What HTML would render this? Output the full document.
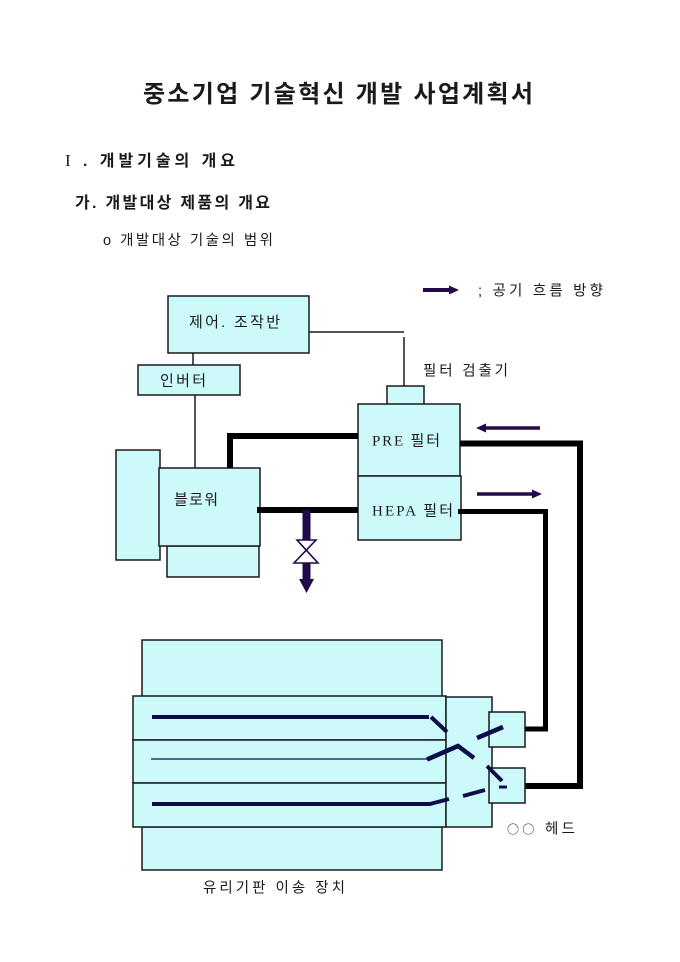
<!DOCTYPE html>
<html>
<head>
<meta charset="utf-8">
<style>
html,body{margin:0;padding:0;background:#fff;}
svg{display:block;}
text{font-family:"Liberation Sans","Noto Sans CJK KR",sans-serif;fill:#1a1a1a;}
.kr{font-family:"Noto Sans CJK KR","Liberation Sans",sans-serif;}
.box{fill:#ccfafa;stroke:#1a1a1a;stroke-width:1.5;}
.thin{stroke:#1a1a1a;stroke-width:1.5;fill:none;}
.pipe{stroke:#000;fill:none;stroke-linejoin:miter;stroke-linecap:butt;}
.navy{stroke:#0c0c4a;fill:none;stroke-linecap:butt;}
</style>
</head>
<body>
<svg width="680" height="962" viewBox="0 0 680 962" xmlns="http://www.w3.org/2000/svg">
<rect width="680" height="962" fill="#fff"/>

<!-- Headings -->
<text x="143" y="102" font-size="24" font-weight="bold" textLength="390" lengthAdjust="spacing">중소기업 기술혁신 개발 사업계획서</text>
<text x="65" y="166" font-size="16" font-weight="bold" textLength="170" lengthAdjust="spacing"><tspan font-family="Liberation Serif" font-weight="normal" font-size="17">I</tspan> . 개발기술의 개요</text>
<text x="75" y="208" font-size="16" font-weight="bold" textLength="195" lengthAdjust="spacing">가. 개발대상 제품의 개요</text>
<text x="103" y="245" font-size="14.5" textLength="170" lengthAdjust="spacing">ο 개발대상 기술의 범위</text>

<!-- Legend -->
<line x1="423" y1="290" x2="450" y2="290" stroke="#220a4a" stroke-width="4"/>
<polygon points="449,285.5 459,290 449,294.5" fill="#220a4a"/>
<text x="478" y="295.5" font-size="14.5" textLength="125" lengthAdjust="spacing">; 공기 흐름 방향</text>

<!-- Control panel -->
<rect class="box" x="168" y="296" width="141" height="57"/>
<text x="189" y="327" font-size="15" textLength="91" lengthAdjust="spacing">제어. 조작반</text>
<line class="thin" x1="309" y1="332" x2="404" y2="332"/>
<line class="thin" x1="404" y1="337" x2="404" y2="386"/>

<!-- Inverter -->
<line class="thin" x1="193" y1="353" x2="193" y2="365"/>
<rect class="box" x="138" y="365" width="102" height="30"/>
<text x="160" y="385.5" font-size="15" textLength="46" lengthAdjust="spacing">인버터</text>
<line class="thin" x1="195" y1="395" x2="195" y2="468"/>

<!-- Filter detector -->
<text x="423" y="375.5" font-size="14.5" textLength="85" lengthAdjust="spacing">필터 검출기</text>
<rect class="box" x="387" y="386" width="37" height="20"/>

<!-- Filters -->
<rect class="box" x="358" y="404" width="102" height="72"/>
<rect class="box" x="358" y="476" width="103" height="64"/>
<text x="372" y="445.5" font-size="15" textLength="68" lengthAdjust="spacing"><tspan font-family="Liberation Serif">PRE </tspan>필터</text>
<text x="372" y="515.5" font-size="15" textLength="81" lengthAdjust="spacing"><tspan font-family="Liberation Serif">HEPA </tspan>필터</text>

<!-- Blower group -->
<rect class="box" x="116" y="450" width="44" height="110"/>
<rect class="box" x="167" y="546" width="92" height="31"/>
<rect class="box" x="159" y="468" width="101" height="78"/>
<text x="174" y="504.5" font-size="15" textLength="44" lengthAdjust="spacing">블로워</text>

<!-- Pipes -->
<path class="pipe" d="M230 468 V436 H358" stroke-width="6"/>
<path class="pipe" d="M257 510 H358" stroke-width="6"/>
<path class="pipe" d="M460 443.5 H580 V786 H525" stroke-width="6"/>
<path class="pipe" d="M458 511.5 H545.5 V729 H525" stroke-width="5"/>

<!-- Flow arrows -->
<line x1="540" y1="428" x2="485" y2="428" stroke="#220a4a" stroke-width="3.5"/>
<polygon points="486,423.5 476,428 486,432.5" fill="#220a4a"/>
<line x1="477" y1="494" x2="533" y2="494" stroke="#220a4a" stroke-width="3.5"/>
<polygon points="532,489.5 542,494 532,498.5" fill="#220a4a"/>

<!-- Valve -->
<line x1="306.5" y1="510" x2="306.5" y2="540" stroke="#220a4a" stroke-width="8"/>
<path d="M297 540 L316 540 L294 563 L318 563 Z" fill="#fff" stroke="#220a4a" stroke-width="1.6" stroke-linejoin="miter"/>
<line x1="306.5" y1="563" x2="306.5" y2="580" stroke="#220a4a" stroke-width="8"/>
<polygon points="299,579 314,579 306.5,593" fill="#220a4a"/>

<!-- Glass transport unit -->
<rect class="box" x="142" y="640" width="300" height="57"/>
<rect class="box" x="142" y="827" width="300" height="43"/>
<rect class="box" x="133" y="696" width="313" height="44"/>
<rect class="box" x="133" y="740" width="313" height="43"/>
<rect class="box" x="133" y="783" width="313" height="44"/>
<rect class="box" x="446" y="697" width="46" height="130"/>
<rect class="box" x="489" y="712" width="36" height="35"/>
<rect class="box" x="489" y="768" width="36" height="35"/>

<!-- Glass lines -->
<line class="navy" x1="152" y1="717" x2="429" y2="717" stroke-width="4"/>
<line class="navy" x1="431" y1="717" x2="447" y2="732" stroke-width="4"/>
<line x1="151" y1="759" x2="428" y2="759" stroke="#0c0c4a" stroke-width="1.2"/>
<path class="navy" d="M427 759.5 L458 746 L474 758" stroke-width="4.5" stroke-linejoin="miter"/>
<line class="navy" x1="477" y1="738" x2="503" y2="727" stroke-width="4.5"/>
<line class="navy" x1="487" y1="766" x2="502" y2="781" stroke-width="4"/>
<line class="navy" x1="499" y1="787" x2="507" y2="787" stroke-width="3"/>
<path class="navy" d="M152 804 L430 804 L449 799" stroke-width="4" stroke-linejoin="round"/>
<line class="navy" x1="463" y1="796" x2="485" y2="790" stroke-width="4"/>

<text x="507" y="833.5" font-size="14.5" textLength="68" lengthAdjust="spacing"><tspan class="kr" font-size="12">○○</tspan> 헤드</text>
<text x="203" y="892.5" font-size="14.5" textLength="142" lengthAdjust="spacing">유리기판 이송 장치</text>
</svg>
</body>
</html>
